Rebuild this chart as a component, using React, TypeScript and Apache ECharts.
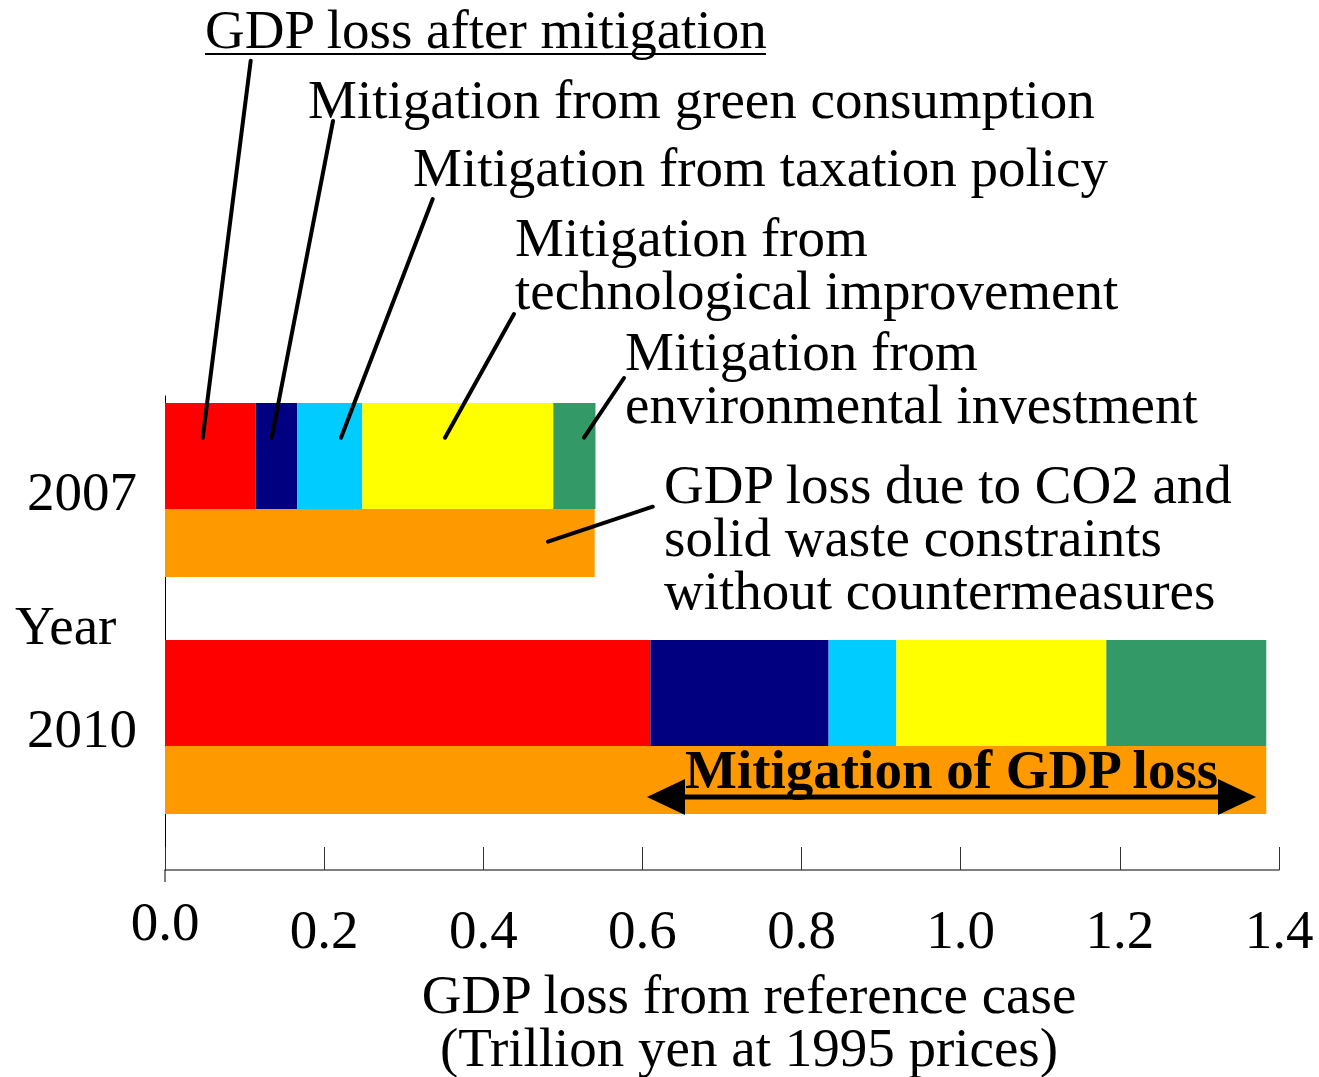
import React, { useEffect, useRef } from "react";
import * as echarts from "echarts";

const years = ["2007", "2010"];
const lossAfterMitigation = [0.114, 0.61];
const greenConsumption = [0.052, 0.224];
const taxationPolicy = [0.082, 0.085];
const techImprovement = [0.24, 0.264];
const envInvestment = [0.053, 0.201];
const lossWithoutMeasures = [0.54, 1.384];
const padding = [0, 0];

const xTicks = { min: 0, max: 1.4, interval: 0.2 };

const FONT = "'Liberation Serif', 'Times New Roman', serif";
const FS = 55;

const annotationLines: { text: string; x: number; y: number }[] = [
  { text: "GDP loss after mitigation", x: 205, y: 29 },
  { text: "Mitigation from green consumption", x: 308, y: 99 },
  { text: "Mitigation from taxation policy", x: 413, y: 167 },
  { text: "Mitigation from", x: 515, y: 237 },
  { text: "technological improvement", x: 515, y: 290 },
  { text: "Mitigation from", x: 625, y: 351 },
  { text: "environmental investment", x: 625, y: 404 },
  { text: "GDP loss due to CO2 and", x: 664, y: 484 },
  { text: "solid waste constraints", x: 664, y: 537 },
  { text: "without countermeasures", x: 664, y: 590 },
];

const leaders = [
  [250.7, 60.7, 202.7, 437.7],
  [333, 121, 271.7, 437.7],
  [432.7, 199, 341, 437.7],
  [514, 314, 445, 437.7],
  [624, 378, 584, 437.7],
  [652.7, 506.7, 548, 541.7],
];

export default function App() {
  const ref = useRef<HTMLDivElement>(null);
  useEffect(() => {
    if (!ref.current) return;
    const chart = echarts.init(ref.current, null, { renderer: "svg" });
    const txt = { fontFamily: FONT, fontSize: FS, color: "#000" };
    const stackSeries = [
      { name: "GDP loss after mitigation", data: lossAfterMitigation, color: "#ff0000" },
      { name: "Mitigation from green consumption", data: greenConsumption, color: "#000080" },
      { name: "Mitigation from taxation policy", data: taxationPolicy, color: "#00ccff" },
      { name: "Mitigation from technological improvement", data: techImprovement, color: "#ffff00" },
      { name: "Mitigation from environmental investment", data: envInvestment, color: "#339966" },
    ].map((s) => ({
      type: "bar",
      name: s.name,
      stack: "top",
      barWidth: 106,
      barGap: "0%",
      data: s.data,
      itemStyle: { color: s.color },
    }));

    const graphic: any[] = [];
    annotationLines.forEach((a) => {
      graphic.push({
        type: "text",
        x: a.x,
        y: a.y,
        z: 100,
        style: { text: a.text, fontFamily: FONT, fontSize: FS, fill: "#000", align: "left", verticalAlign: "middle" },
      });
    });
    graphic.push({
      type: "line",
      z: 100,
      shape: { x1: 205, y1: 54, x2: 766, y2: 54 },
      style: { stroke: "#000", lineWidth: 2 },
    });
    leaders.forEach((l) => {
      graphic.push({
        type: "line",
        z: 100,
        shape: { x1: l[0], y1: l[1], x2: l[2], y2: l[3] },
        style: { stroke: "#000", lineWidth: 4, lineCap: "round" },
      });
    });
    graphic.push({
      type: "text",
      x: 15,
      y: 625,
      z: 100,
      style: { text: "Year", fontFamily: FONT, fontSize: FS, fill: "#000", align: "left", verticalAlign: "middle" },
    });
    graphic.push({
      type: "line",
      z: 100,
      shape: { x1: 165, y1: 870, x2: 165, y2: 882 },
      style: { stroke: "#000", lineWidth: 1 },
    });
    graphic.push({
      type: "line",
      z: 100,
      shape: { x1: 683, y1: 797, x2: 1220, y2: 797 },
      style: { stroke: "#000", lineWidth: 5 },
    });
    graphic.push({
      type: "polygon",
      z: 100,
      shape: { points: [[647, 797], [685, 779], [685, 815]] },
      style: { fill: "#000" },
    });
    graphic.push({
      type: "polygon",
      z: 100,
      shape: { points: [[1256, 797], [1218, 779], [1218, 815]] },
      style: { fill: "#000" },
    });
    graphic.push({
      type: "text",
      x: 685,
      y: 769,
      z: 101,
      style: {
        text: "Mitigation of GDP loss",
        fontFamily: FONT,
        fontSize: FS,
        fontWeight: "bold",
        fill: "#000",
        align: "left",
        verticalAlign: "middle",
      },
    });

    chart.setOption({
      animation: false,
      backgroundColor: "#fff",
      grid: { left: 165, right: 40, top: 396, bottom: 207, containLabel: false },
      xAxis: {
        type: "value",
        min: xTicks.min,
        max: xTicks.max,
        interval: xTicks.interval,
        name: "GDP loss from reference case\n(Trillion yen at 1995 prices)",
        nameLocation: "middle",
        nameGap: 98,
        nameTextStyle: { ...txt, lineHeight: 53, padding: [0, 0, 0, 54] },
        axisLine: { show: true, lineStyle: { color: "#555", width: 1.5 } },
        axisTick: { show: true, inside: true, length: 23, lineStyle: { color: "#333", width: 1 } },
        splitLine: { show: false },
        axisLabel: {
          margin: 24,
          formatter: (v: number, i: number) => (i === 0 ? `{z|${v.toFixed(1)}}` : `{n|${v.toFixed(1)}}`),
          rich: {
            z: { ...txt, lineHeight: 54 },
            n: { ...txt, lineHeight: 70 },
          },
        },
      },
      yAxis: {
        type: "category",
        inverse: true,
        data: years,
        axisLine: { show: true, lineStyle: { color: "#000", width: 1 } },
        axisTick: { show: false },
        axisLabel: { ...txt, margin: 28, verticalAlign: "bottom", lineHeight: 46 },
      },
      series: [
        ...stackSeries,
        {
          type: "bar",
          name: "GDP loss due to CO2 and solid waste constraints without countermeasures",
          stack: "base",
          barWidth: 68,
          barGap: "0%",
          data: lossWithoutMeasures,
          itemStyle: { color: "#ff9900" },
        },
        {
          type: "bar",
          name: "pad",
          stack: "pad",
          barWidth: 49,
          barGap: "0%",
          data: padding,
          silent: true,
          itemStyle: { color: "rgba(0,0,0,0)" },
        },
      ],
      graphic,
    });
    return () => chart.dispose();
  }, []);
  return (
    <div
      ref={ref}
      style={{ position: "fixed", left: 0, top: 0, width: 1319, height: 1077 }}
    />
  );
}
